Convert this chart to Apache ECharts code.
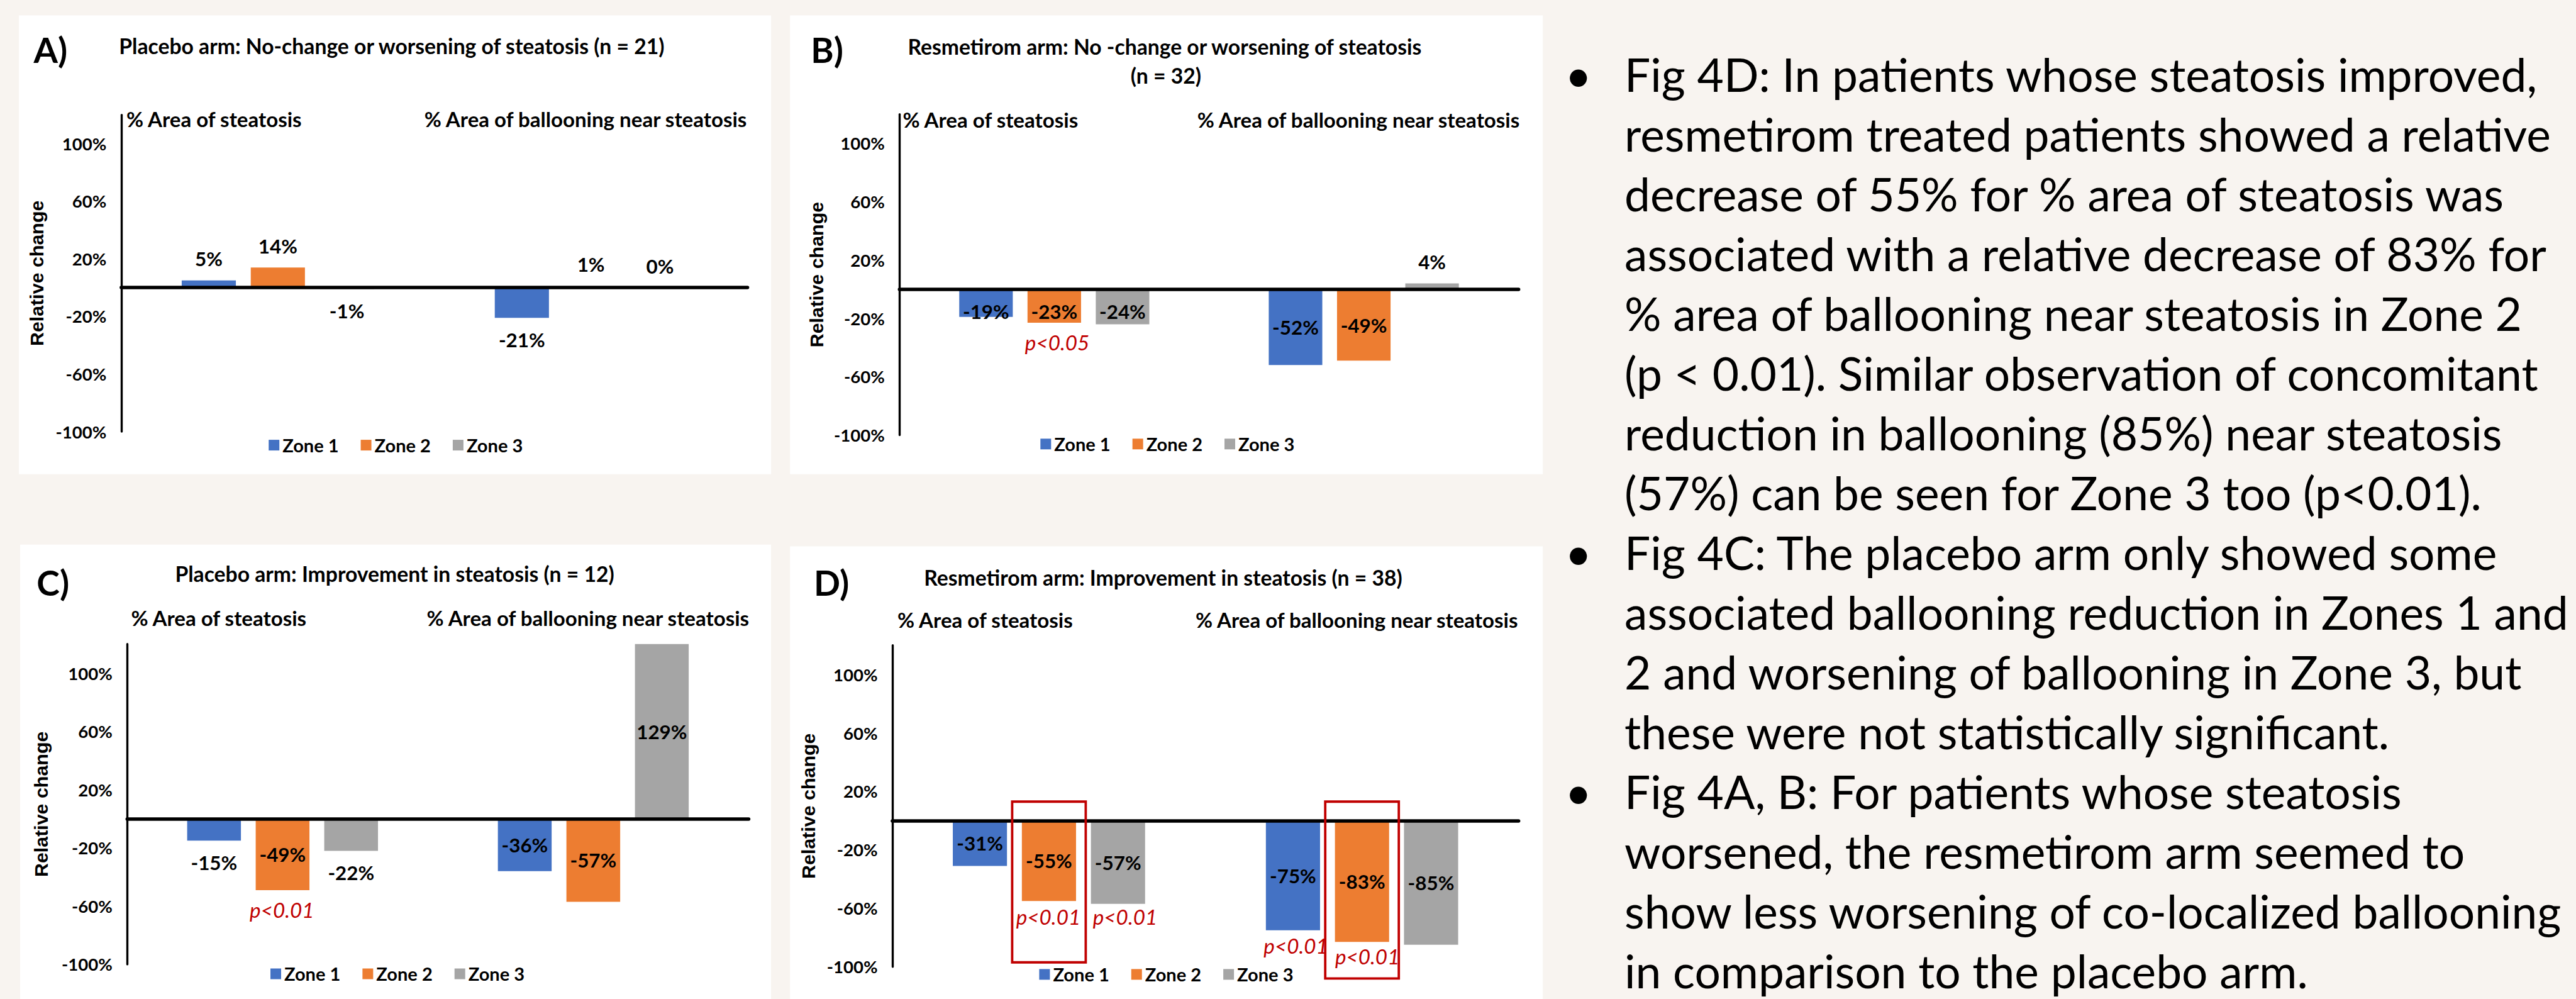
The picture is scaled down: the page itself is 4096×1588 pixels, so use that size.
<!DOCTYPE html>
<html>
<head>
<meta charset="utf-8">
<script src="https://cdn.jsdelivr.net/npm/echarts@6/dist/echarts.min.js"></script>
<style>
html,body{margin:0;padding:0;background:#F8F4F0;}
#chart{width:4096px;height:1588px;}
</style>
</head>
<body>
<div id="chart"></div>
<script>
// ------------------------------------------------------------------ DATA
const categories = ['% Area of steatosis', '% Area of ballooning near steatosis'];
const zones = ['Zone 1', 'Zone 2', 'Zone 3'];
const yTickLabels = [-100, -60, -20, 20, 60, 100];
const panelLetters = ['A)', 'B)', 'C)', 'D)'];
const yAxisName = 'Relative change';

const titleA = ['Placebo arm: No-change or worsening of steatosis (n = 21)'];
const titleB = ['Resmetirom arm: No -change or worsening of steatosis', '(n = 32)'];
const titleC = ['Placebo arm: Improvement in steatosis (n = 12)'];
const titleD = ['Resmetirom arm: Improvement in steatosis (n = 38)'];

// values per zone: [% area of steatosis, % area of ballooning near steatosis]
const A_zone1 = [5, -21];
const A_zone2 = [14, 1];
const A_zone3 = [-1, 0];
const B_zone1 = [-19, -52];
const B_zone2 = [-23, -49];
const B_zone3 = [-24, 4];
const C_zone1 = [-15, -36];
const C_zone2 = [-49, -57];
const C_zone3 = [-22, 129];
const D_zone1 = [-31, -75];
const D_zone2 = [-55, -83];
const D_zone3 = [-57, -85];

// significance notes: [zone index, category index, text]
const A_notes = [];
const B_notes = [[1, 0, 'p<0.05']];
const C_notes = [[1, 0, 'p<0.01']];
const D_notes = [[1, 0, 'p<0.01'], [2, 0, 'p<0.01'], [0, 1, 'p<0.01'], [1, 1, 'p<0.01']];

// highlight boxes (panel D): [category index, top value, bottom value]
const D_boxes = [[0, 13, -97], [1, 13, -108]];

const bodyLines = [
  'Fig 4D: In patients whose steatosis improved,',
  'resmetirom treated patients showed a relative',
  'decrease of 55% for % area of steatosis was',
  'associated with a relative decrease of 83% for',
  '% area of ballooning near steatosis in Zone 2',
  '(p < 0.01). Similar observation of concomitant',
  'reduction in ballooning (85%) near steatosis',
  '(57%) can be seen for Zone 3 too (p<0.01).',
  'Fig 4C: The placebo arm only showed some',
  'associated ballooning reduction in Zones 1 and',
  '2 and worsening of ballooning in Zone 3, but',
  'these were not statistically significant.',
  'Fig 4A, B: For patients whose steatosis',
  'worsened, the resmetirom arm seemed to',
  'show less worsening of co-localized ballooning',
  'in comparison to the placebo arm.'
];
const bulletLines = [0, 8, 12];

// ------------------------------------------------------------------ STYLE / LAYOUT
const S = 0.941;
const W = 4096, H = 1588;
const FONT = 'Lato';
const COLORS = ['#4472C4', '#ED7D31', '#A5A5A5'];
const RED = '#C00000';
const BG = '#F8F4F0';

const mctx = document.createElement('canvas').getContext('2d');
function textWidth(text, size, weight, family, style) {
  mctx.font = (style || 'normal') + ' ' + (weight || 'bold') + ' ' + size + 'px ' + (family || FONT);
  return mctx.measureText(text).width;
}
function fitSize(text, target, weight, family, style) {
  return +(100 * target / textWidth(text, 100, weight, family, style)).toFixed(2);
}
const fsTitle = fitSize(titleA[0], 924 * S);
const fsLetter = fitSize('A)', 57 * S);
const fsCat = fitSize(categories[0], 298 * S);
const fsTick = fitSize('100%', 75 * S);
const fsLabel = fitSize('14%', 66 * S);
const fsLegend = fitSize('Zone 1', 95 * S);
const fsNote = fitSize('p<0.01', 109 * S, 'normal', FONT, 'italic');
const fsYName = fitSize(yAxisName, 246 * S, 'bold', 'Liberation Sans');

// body text: match reference width, but keep every line inside the picture
const bodyX = 2745 * S, bulletX = 2667 * S, bodyY0 = 125 * S;
let fsBody = fitSize(bodyLines[0], 1561 * S, 'normal');
bodyLines.forEach(t => {
  fsBody = Math.min(fsBody, fitSize(t, W - bodyX - 12, 'normal'));
});
const bodyStep = Math.min(102.5 * S, (H - fsBody * 0.62 - bodyY0) / (bodyLines.length - 1));

const panels = [
  { vals: [A_zone1, A_zone2, A_zone3], notes: A_notes, boxes: [], title: titleA },
  { vals: [B_zone1, B_zone2, B_zone3], notes: B_notes, boxes: [], title: titleB },
  { vals: [C_zone1, C_zone2, C_zone3], notes: C_notes, boxes: [], title: titleC },
  { vals: [D_zone1, D_zone2, D_zone3], notes: D_notes, boxes: D_boxes, title: titleD }
];

// layout in output pixels; noteShift in reference pixels [dx, dy]
const layout = [
  { rect: [30.1, 24.5, 1196, 729.3], grid: [192.9, 182.6, 1188.5, 686.0], letter: [53.6, 78.6],
    titles: [[622.9, 72.9]], catMargin: -6.6, legend: [427.2, 707.6], yNameDist: 135.5,
    modes: [['out', 'out'], ['out', 'out'], ['out', 'out']], noteShift: [] },
  { rect: [1256.2, 24.5, 1197, 729.3], grid: [1430.3, 181.6, 2414.6, 691.6], letter: [1289.2, 78.6],
    titles: [[1851.9, 74.3], [1853.8, 120.4]], catMargin: -8.5, legend: [1654.3, 705.8], yNameDist: 132.7,
    modes: [['base', 'in'], ['base', 'in'], ['base', 'out']], noteShift: [[5, 3]] },
  { rect: [32.0, 865.7, 1194, 730], grid: [202.3, 1023.8, 1190.4, 1532.9], letter: [58.3, 925.5],
    titles: [[627.6, 911.8]], catMargin: 42.3, legend: [430.0, 1548.0], yNameDist: 137.4,
    modes: [['out', 'in'], ['in', 'in'], ['out', 'in']], noteShift: [[-1, 4]] },
  { rect: [1256.2, 868.5, 1197, 730], grid: [1419.0, 1025.7, 2414.6, 1536.7], letter: [1293.9, 925.9],
    titles: [[1849.5, 917.5]], catMargin: 40.5, legend: [1652.4, 1548.9], yNameDist: 134.5,
    modes: [['in', 'in'], ['in', 'in'], ['in', 'in']], noteShift: [[-1, -3], [12, -8], [5, -3], [9, -5]] }
];

function labelFor(mode, v) {
  if (mode === 'in') return { position: 'inside' };
  if (mode === 'base') return { position: 'insideTop', distance: 20 };
  return { position: v >= 0 ? 'top' : 'bottom', distance: 19 };
}

function textEl(text, x, y, fs, weight, align) {
  return {
    type: 'text', x: x, y: y, z: 20, silent: true,
    style: {
      text: text, fill: '#000',
      fontSize: fs, fontWeight: weight, fontFamily: FONT,
      font: weight + ' ' + fs + 'px ' + FONT,
      textAlign: align, align: align,
      textVerticalAlign: 'middle', verticalAlign: 'middle'
    }
  };
}

// ------------------------------------------------------------------ OPTION
const option = {
  animation: false,
  backgroundColor: BG,
  textStyle: { fontFamily: FONT },
  grid: [], xAxis: [], yAxis: [], series: [], legend: [],
  graphic: { elements: [] }
};

panels.forEach((p, i) => {
  const g = layout[i];
  const [gl, gt, gr, gb] = g.grid;

  option.graphic.elements.push({
    type: 'rect', z: -10, silent: true,
    shape: { x: g.rect[0], y: g.rect[1], width: g.rect[2], height: g.rect[3] },
    style: { fill: '#FFFFFF' }
  });
  option.graphic.elements.push(textEl(panelLetters[i], g.letter[0], g.letter[1], fsLetter, 'bold', 'left'));
  p.title.forEach((t, k) => {
    option.graphic.elements.push(textEl(t, g.titles[k][0], g.titles[k][1], fsTitle, 'bold', 'center'));
  });

  option.grid.push({
    left: gl, top: gt, width: gr - gl, height: gb - gt,
    containLabel: false, outerBoundsMode: 'none'
  });

  // zero line axis (carries the bars)
  option.xAxis.push({
    gridIndex: i, type: 'category', data: categories, position: 'bottom', z: 4,
    axisLine: { show: true, onZero: true, lineStyle: { color: '#000', width: 5.6 } },
    axisTick: { show: false }, axisLabel: { show: false }, splitLine: { show: false }
  });
  // category names at the top
  const catFont = { fontSize: fsCat, fontWeight: 'bold', fontFamily: FONT, color: '#000' };
  option.xAxis.push({
    gridIndex: i, type: 'category', data: categories, position: 'top',
    axisLine: { show: false, onZero: false }, axisTick: { show: false }, splitLine: { show: false },
    axisLabel: Object.assign({
      show: true, interval: 0, margin: g.catMargin, verticalAlign: 'middle',
      formatter: (v, idx) => '{c' + idx + '|' + v + '}',
      rich: {
        c0: Object.assign({ padding: [0, 203, 0, 0] }, catFont),
        c1: Object.assign({ padding: [0, 17, 0, 0] }, catFont)
      }
    }, catFont)
  });

  option.yAxis.push({
    gridIndex: i, type: 'value', min: -100, max: 120, interval: 20,
    axisLine: { show: true, onZero: false, lineStyle: { color: '#000', width: 3.4 } },
    axisTick: { show: false }, splitLine: { show: false },
    axisLabel: {
      margin: 23.5, color: '#000', fontWeight: 'bold', fontSize: fsTick, fontFamily: FONT,
      formatter: v => (yTickLabels.indexOf(Math.round(v)) >= 0 ? Math.round(v) + '%' : '')
    },
    name: yAxisName, nameLocation: 'middle', nameRotate: 90,
    nameGap: g.yNameDist - fsYName / 2,
    nameTextStyle: { color: '#000', fontWeight: 'bold', fontSize: fsYName, fontFamily: 'Liberation Sans' }
  });

  zones.forEach((zn, z) => {
    const s = {
      type: 'bar', name: zn, xAxisIndex: 2 * i, yAxisIndex: i,
      barWidth: '17.3%', barGap: '27.5%',
      itemStyle: { color: COLORS[z] },
      label: { show: true, formatter: '{c}%', color: '#000', fontWeight: 'bold', fontSize: fsLabel, fontFamily: FONT },
      data: p.vals[z].map((v, c) => ({ value: v, label: labelFor(g.modes[z][c], v) }))
    };
    const items = [];
    p.notes.forEach((n, k) => {
      if (n[0] !== z) return;
      const sh = g.noteShift[k] || [0, 0];
      items.push({
        coord: [n[1], p.vals[z][n[1]]],
        label: { formatter: n[2], offset: [sh[0] * S, sh[1] * S] }
      });
    });
    if (items.length) {
      s.markPoint = {
        symbol: 'rect', symbolSize: 1, silent: true,
        itemStyle: { color: 'rgba(0,0,0,0)' },
        label: {
          show: true, position: 'bottom', distance: 29 * S - fsNote / 2,
          color: RED, fontStyle: 'italic', fontWeight: 'normal', fontSize: fsNote, fontFamily: FONT
        },
        data: items
      };
    }
    option.series.push(s);
  });

  if (p.boxes.length) {
    option.series.push({
      type: 'custom', name: 'highlight', xAxisIndex: 2 * i, yAxisIndex: i,
      clip: false, silent: true, z: 6,
      encode: { x: 0, y: [1, 2] },
      data: p.boxes,
      renderItem: (params, api) => {
        const c = api.value(0);
        const top = api.coord([c, api.value(1)]);
        const bot = api.coord([c, api.value(2)]);
        const band = api.size([1, 0])[0];
        const w = band * 0.235;
        return {
          type: 'rect',
          shape: { x: top[0] - w / 2, y: top[1], width: w, height: bot[1] - top[1] },
          style: { fill: 'none', stroke: RED, lineWidth: 3.8 }
        };
      }
    });
  }

  option.legend.push({
    data: zones, left: g.legend[0], top: g.legend[1] - fsLegend / 2,
    orient: 'horizontal', icon: 'rect', itemWidth: 17, itemHeight: 17, itemGap: 35,
    padding: 0, selectedMode: false,
    textStyle: { color: '#000', fontWeight: 'bold', fontSize: fsLegend, fontFamily: FONT }
  });
});

// explanatory text
bodyLines.forEach((t, k) => {
  const y = bodyY0 + bodyStep * k;
  option.graphic.elements.push(textEl(t, bodyX, y, fsBody, 'normal', 'left'));
  if (bulletLines.indexOf(k) >= 0) {
    option.graphic.elements.push(textEl('\u2022', bulletX, y, fsBody, 'normal', 'center'));
  }
});

const chart = echarts.init(document.getElementById('chart'), null, { renderer: 'svg', width: W, height: H });
chart.setOption(option);
</script>
</body>
</html>
